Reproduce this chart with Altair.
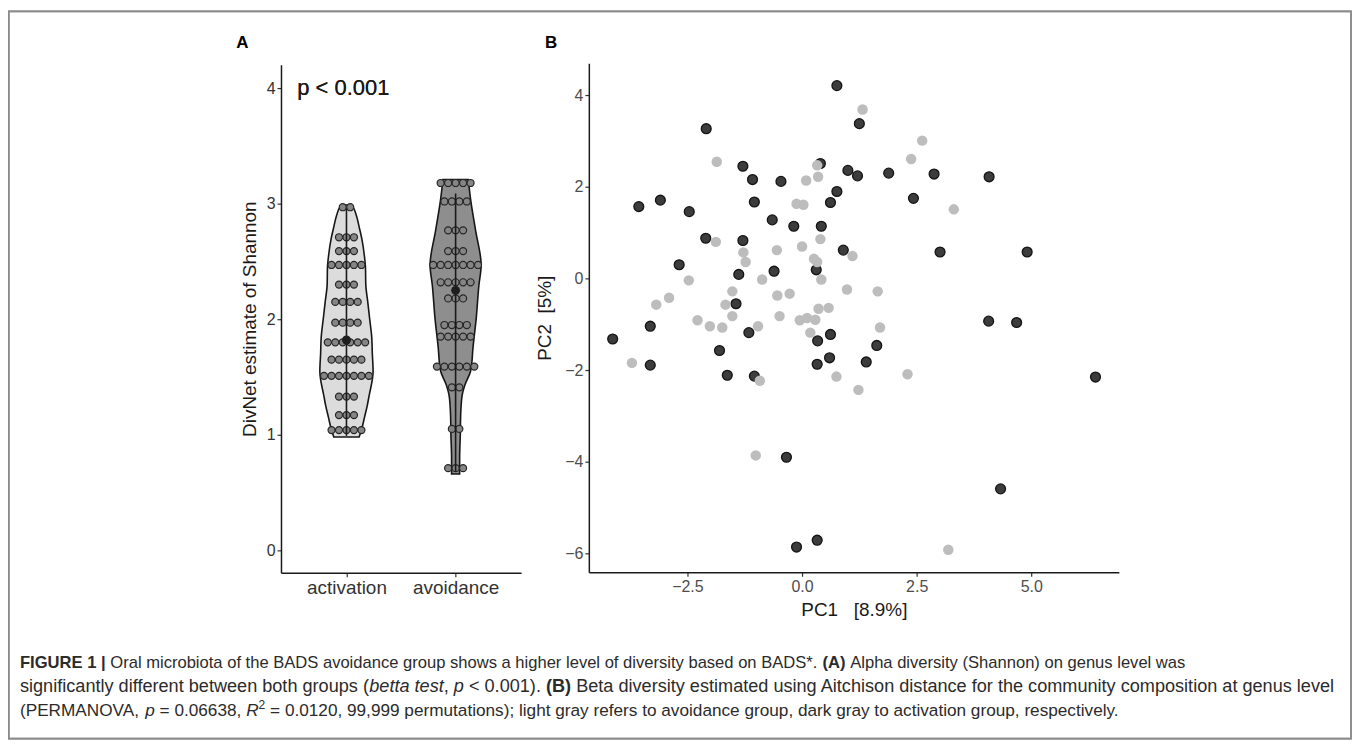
import altair as alt
import pandas as pd

FONT = "Liberation Sans"

# ---------------- Panel A : alpha diversity (dot + violin) ----------------
groups = ["activation", "avoidance"]
act_levels = [2.97, 2.71, 2.59, 2.47, 2.30, 2.15, 1.97, 1.80, 1.65, 1.51, 1.33, 1.17, 1.04]
act_counts = [2, 3, 3, 5, 3, 4, 4, 6, 5, 7, 3, 3, 5]
avo_levels = [3.18, 3.02, 2.77, 2.59, 2.47, 2.32, 2.18, 1.95, 1.85, 1.59, 1.41, 1.05, 0.71]
avo_counts = [5, 4, 3, 3, 7, 5, 3, 4, 5, 6, 2, 2, 3]
group_mean = [1.82, 2.25]
range_low = [0.99, 0.68]
range_high = [2.96, 3.09]

act_violin_y = [0.98, 1.05, 1.15, 1.25, 1.35, 1.45, 1.55, 1.70, 1.85, 2.00, 2.15, 2.30, 2.45, 2.55, 2.70, 2.80, 2.90, 2.97, 2.99]
act_violin_w = [0.116, 0.140, 0.165, 0.190, 0.210, 0.232, 0.244, 0.237, 0.231, 0.213, 0.195, 0.177, 0.174, 0.164, 0.140, 0.116, 0.090, 0.060, 0.035]
avo_violin_y = [0.66, 0.80, 1.00, 1.16, 1.33, 1.43, 1.55, 1.60, 1.74, 2.01, 2.29, 2.47, 2.77, 3.02, 3.21]
avo_violin_w = [0.037, 0.037, 0.043, 0.046, 0.058, 0.085, 0.137, 0.146, 0.158, 0.189, 0.213, 0.234, 0.183, 0.140, 0.116]
violin_fill = ["#dcdcdc", "#8e8e8e"]
p_label = "p < 0.001"

# ---------------- Panel B : beta diversity (PCA) ----------------
dark_x = [0.76, 1.25, -2.09, 0.40, -1.29, -1.08, -0.46, 1.00, 1.21, 1.89, 2.88, 0.76, 0.62, -1.04, -3.09, -3.56,
          -2.46, -0.65, -0.18, 0.42, -2.10, -1.29, 0.90, -2.68, -0.61, -1.38, 0.31, -1.44, -3.31, -4.13, -1.16,
          0.62, 0.34, 4.08, 2.43, 3.01, 4.91, 4.07, 4.68, 6.40, 4.33, -3.31, -1.80, -1.63, -1.04, 0.33, 0.60,
          1.40, 1.63, -0.34, -0.12, 0.33]
dark_y = [4.21, 3.38, 3.27, 2.51, 2.45, 2.16, 2.12, 2.36, 2.24, 2.30, 2.28, 1.90, 1.66, 1.67, 1.71, 1.57,
          1.46, 1.28, 1.14, 1.14, 0.88, 0.83, 0.62, 0.30, 0.16, 0.09, 0.19, -0.55, -1.04, -1.32, -1.18,
          -1.22, -1.36, 2.22, 1.75, 0.58, 0.58, -0.93, -0.96, -2.15, -4.59, -1.89, -1.57, -2.11, -2.13, -1.87,
          -1.73, -1.82, -1.46, -3.90, -5.86, -5.71]
light_x = [1.32, 2.62, 2.38, -1.86, 0.33, 0.09, 0.35, -0.12, 0.03, -1.88, 0.40, -0.55, 0.00, -1.28, -1.23,
           0.26, 0.33, 1.10, -2.47, -0.87, 0.42, -2.90, -3.18, -1.52, -1.67, -0.54, -0.27, 0.98, 1.65, -1.52,
           -0.49, -2.28, -2.01, -1.74, -0.96, -0.05, 0.11, 0.29, 0.36, 0.58, 1.70, 0.18, -3.71, -0.92, 0.75,
           1.23, 2.30, -1.01, 3.31, 3.19]
light_y = [3.69, 3.01, 2.61, 2.55, 2.47, 2.14, 2.22, 1.63, 1.61, 0.80, 0.86, 0.62, 0.70, 0.57, 0.36,
           0.43, 0.36, 0.49, -0.04, -0.02, -0.02, -0.42, -0.57, -0.28, -0.57, -0.37, -0.33, -0.24, -0.28, -0.82,
           -0.82, -0.91, -1.04, -1.07, -1.04, -0.91, -0.86, -0.90, -0.66, -0.64, -1.07, -1.18, -1.84, -2.23, -2.14,
           -2.43, -2.09, -3.86, 1.51, -5.92]
pc1_ticks = [-2.5, 0.0, 2.5, 5.0]
pc2_ticks = [-6, -4, -2, 0, 2, 4]
shannon_ticks = [0, 1, 2, 3, 4]
pc1_title = "PC1\u00a0\u00a0\u00a0[8.9%]"
pc2_title = "PC2\u00a0\u00a0[5%]"
shannon_title = "DivNet estimate of Shannon"

caption_lines = [
    [("FIGURE 1 |", "b"),
     (" Oral microbiota of the BADS avoidance group shows a higher level of diversity based on BADS*. ", "r"),
     ("(A)", "b"),
     (" Alpha diversity (Shannon) on genus level was", "r")],
    [("significantly different between both groups (", "r"), ("betta test", "i"), (", ", "r"), ("p", "i"),
     (" < 0.001). ", "r"), ("(B)", "b"),
     (" Beta diversity estimated using Aitchison distance for the community composition at genus level", "r")],
    [("(PERMANOVA, ", "r"), ("p", "i"), (" = 0.06638, ", "r"), ("R", "i"), ("2", "s"),
     (" = 0.0120, 99,999 permutations); light gray refers to avoidance group, dark gray to activation group, respectively.", "r")],
]
caption_line_width = [1170, 1320, 1105]

# ---------------- layout constants ----------------
W, H = 1349, 734

# ---------------- build frames ----------------
dot_w = 0.0685
rows = []
for gi, (levels, counts) in enumerate([(act_levels, act_counts), (avo_levels, avo_counts)]):
    for lv, n in zip(levels, counts):
        for i in range(n):
            rows.append({"group": groups[gi], "dx": gi + 1 + (i - (n - 1) / 2) * dot_w, "dy": lv})
dots = pd.DataFrame(rows)

viol_frames = []
for gi, (vy, vw) in enumerate([(act_violin_y, act_violin_w), (avo_violin_y, avo_violin_w)]):
    viol_frames.append(pd.DataFrame({"vy": vy,
                                     "xl": [gi + 1 - w for w in vw],
                                     "xr": [gi + 1 + w for w in vw]}))

summ = pd.DataFrame({"group": groups, "pos": [1, 2], "mean": group_mean, "lo": range_low, "hi": range_high})
dark = pd.DataFrame({"pc1": dark_x, "pc2": dark_y})
light = pd.DataFrame({"pc1": light_x, "pc2": light_y})

# ---------------- scales & axes ----------------
scA_x = alt.Scale(domain=[0.4, 2.6], range=[274, 515], nice=False, zero=False)
scA_y = alt.Scale(domain=[-0.195, 4.205], range=[565.4, 55.5], nice=False, zero=False)
scB_x = alt.Scale(domain=[-4.65, 6.91], range=[583, 1115], nice=False, zero=False)
scB_y = alt.Scale(domain=[-6.41, 4.70], range=[565, 54], nice=False, zero=False)

common_ax = dict(grid=False, domainColor="#1a1a1a", domainWidth=1.5, tickColor="#333333", tickWidth=1.2,
                 tickSize=4, labelFont=FONT, titleFont=FONT, titleFontWeight="normal", titleColor="#1a1a1a",
                 titleFontSize=19, labelPadding=2)

labexpr = "[" + ",".join("'%s'" % g for g in groups) + "][datum.value - 1]"
axA_x = alt.Axis(orient="bottom", offset=565.4 - H, values=[1, 2], labelExpr=labexpr, title=None,
                 labelFontSize=19, labelColor="#333333", labelAngle=0, **common_ax)
axA_y = alt.Axis(orient="left", offset=-274, values=shannon_ticks, format="d", title=shannon_title,
                 labelFontSize=16, labelColor="#333333", titleBaseline="middle", titleX=-32, titleY=310.5,
                 **common_ax)
axB_x = alt.Axis(orient="bottom", offset=565 - H, values=pc1_ticks, format=".1f", title=pc1_title,
                 labelFontSize=16, labelColor="#4d4d4d", titleBaseline="middle", titleX=849, titleY=37,
                 **common_ax)
axB_y = alt.Axis(orient="left", offset=-583, values=pc2_ticks, format="d", title=pc2_title,
                 labelFontSize=16, labelColor="#4d4d4d", titleBaseline="middle", titleX=-44, titleY=309.5,
                 **common_ax)


def AX(f):
    return alt.X(f, type="quantitative", scale=scA_x, axis=axA_x)


def AY(f):
    return alt.Y(f, type="quantitative", scale=scA_y, axis=axA_y)


violins = [
    alt.Chart(vf).mark_area(orient="horizontal", fill=violin_fill[gi], stroke="#161616", strokeWidth=1.6,
                            opacity=1, interpolate="monotone").encode(x=AX("xl"), x2="xr", y=AY("vy"))
    for gi, vf in enumerate(viol_frames)
]
dotlayer = alt.Chart(dots).mark_circle(size=50, fill="#858585", stroke="#262626", strokeWidth=1.2,
                                       opacity=1).encode(x=AX("dx"), y=AY("dy"))
rule = alt.Chart(summ).mark_rule(color="#1a1a1a", strokeWidth=1.6).encode(x=AX("pos"), y=AY("lo"), y2="hi")
meanpt = alt.Chart(summ).mark_circle(size=80, color="#1e1e1e", opacity=1).encode(x=AX("pos"), y=AY("mean"))
ptext = alt.Chart(summ).mark_text(text=p_label, font=FONT, fontSize=22, align="left", baseline="middle",
                                  color="#1a1a1a").encode(
    x=alt.X(datum=0.55, type="quantitative", scale=scA_x, axis=axA_x),
    y=alt.Y(datum=4.0, type="quantitative", scale=scA_y, axis=axA_y))
panelA = alt.layer(*violins, dotlayer, rule, meanpt, ptext)


def BX():
    return alt.X("pc1:Q", scale=scB_x, axis=axB_x)


def BY():
    return alt.Y("pc2:Q", scale=scB_y, axis=axB_y)


dark_layer = alt.Chart(dark).mark_circle(size=98, fill="#3c3c3c", stroke="#141414", strokeWidth=1.3,
                                         opacity=1).encode(x=BX(), y=BY())
light_layer = alt.Chart(light).mark_circle(size=110, fill="#bdbdbd", opacity=1).encode(x=BX(), y=BY())
panelB = alt.layer(dark_layer, light_layer)

# ---------------- panel letters ----------------
letters = pd.DataFrame({"t": ["A", "B"], "lx": [229, 539]})
letter_layer = alt.Chart(letters).mark_text(font=FONT, fontSize=17, fontWeight="bold", align="left",
                                            baseline="alphabetic", color="#000000").encode(
    x=alt.X("lx:Q", scale=None, axis=None), y=alt.value(39), text="t:N")

# ---------------- caption (Helvetica-metric layout) ----------------
REG = {' ': 278, '!': 278, '"': 355, '%': 889, "'": 191, '(': 333, ')': 333, '*': 389, '+': 584, ',': 278,
       '-': 333, '.': 278, '/': 278, ':': 278, ';': 278, '<': 584, '=': 584, '>': 584, '?': 556, '|': 260,
       '[': 278, ']': 278,
       'A': 667, 'B': 667, 'C': 722, 'D': 722, 'E': 667, 'F': 611, 'G': 778, 'H': 722, 'I': 278, 'J': 500,
       'K': 667, 'L': 556, 'M': 833, 'N': 722, 'O': 778, 'P': 667, 'Q': 778, 'R': 722, 'S': 667, 'T': 611,
       'U': 722, 'V': 667, 'W': 944, 'X': 667, 'Y': 667, 'Z': 611,
       'a': 556, 'b': 556, 'c': 500, 'd': 556, 'e': 556, 'f': 278, 'g': 556, 'h': 556, 'i': 222, 'j': 222,
       'k': 500, 'l': 222, 'm': 833, 'n': 556, 'o': 556, 'p': 556, 'q': 556, 'r': 333, 's': 500, 't': 278,
       'u': 556, 'v': 500, 'w': 722, 'x': 500, 'y': 500, 'z': 500}
for d in "0123456789":
    REG[d] = 556
BOLD = dict(REG)
BOLD.update({'(': 333, ')': 333, '|': 280, 'A': 722, 'B': 722, 'E': 667, 'F': 611, 'G': 778, 'I': 278,
             'R': 722, 'U': 722})


def seg_em(txt, style):
    tab = BOLD if style == "b" else REG
    scale = 0.7 if style == "s" else 1.0
    return sum(tab.get(c, 556) for c in txt) / 1000.0 * scale


line_em = [sum(seg_em(t, s) for t, s in line) for line in caption_lines]
line_fs = [caption_line_width[i] / line_em[i] for i in range(3)]

cap_x0 = 12
cap_y = [656, 680, 704]
crow = []
for li, line in enumerate(caption_lines):
    fs = line_fs[li]
    xpos = cap_x0
    for txt, style in line:
        lead = len(txt) - len(txt.lstrip(" "))
        start = xpos + seg_em(" " * lead, style) * fs
        crow.append({"t": txt.strip(" "), "cx": start, "cy": cap_y[li] - (0.33 * fs if style == "s" else 0),
                     "st": style, "fs": fs * (0.7 if style == "s" else 1.0)})
        xpos += seg_em(txt, style) * fs
cap = pd.DataFrame(crow)


def cap_layer(style, **kw):
    return alt.Chart(cap).transform_filter(alt.datum.st == style).mark_text(
        font=FONT, align="left", baseline="middle", color="#2b2b2b", **kw).encode(
        x=alt.X("cx:Q", scale=None, axis=None), y=alt.Y("cy:Q", scale=None, axis=None), text="t:N",
        size=alt.Size("fs:Q", scale=None, legend=None))


cap_r = cap_layer("r")
cap_b = cap_layer("b", fontWeight="bold")
cap_i = cap_layer("i", fontStyle="italic")
cap_s = cap_layer("s")

border = alt.Chart(summ).mark_rect(fillOpacity=0, stroke="#8a8a8a", strokeWidth=1.6).encode(
    x=alt.value(0.8), x2=alt.value(1348), y=alt.value(2), y2=alt.value(732))

chart = alt.layer(border, panelA, panelB, letter_layer, cap_r, cap_b, cap_i, cap_s).resolve_scale(
    x="independent", y="independent"
).properties(width=W, height=H, padding=0, autosize=alt.AutoSizeParams(type="none")).configure_view(stroke=None)

chart.save("out.html", embed_options={"renderer": "svg", "actions": False})
